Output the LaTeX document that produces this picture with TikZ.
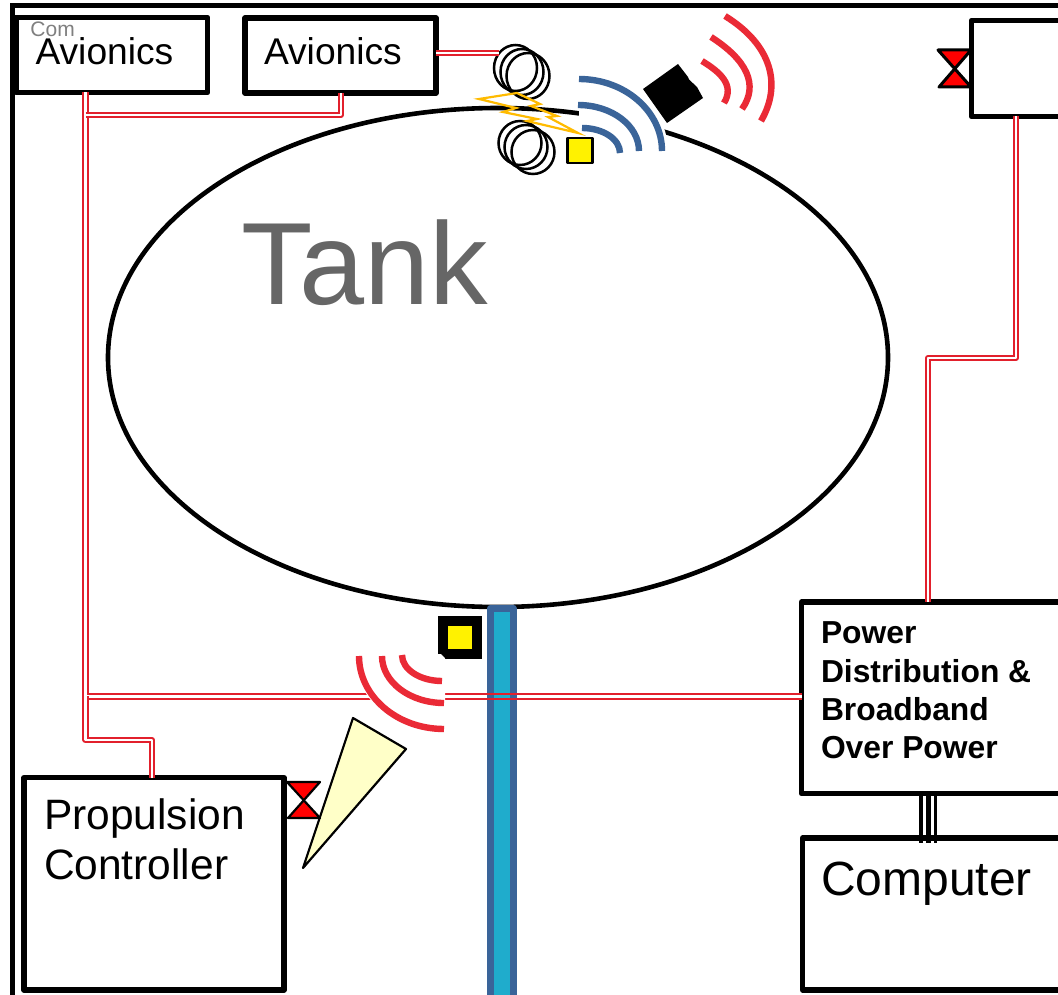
\documentclass[tikz,border=0pt]{standalone}
\usepackage{fontspec}
\setmainfont{Liberation Sans}
\usetikzlibrary{shapes.geometric,calc}
\definecolor{wirered}{HTML}{E2202C}
\definecolor{sigred}{HTML}{EA2A36}
\definecolor{sigblue}{HTML}{3A6499}
\definecolor{pipeteal}{HTML}{1FACCC}
\definecolor{bolt}{HTML}{FFBB00}
\definecolor{cone}{HTML}{FFFFC8}
\tikzset{
  box/.style={draw=black,line width=5.4pt,fill=white,rectangle,inner sep=0pt,outer sep=0pt,line join=round},
  wire/.style={draw=wirered,line width=6.2pt,line join=round,postaction={draw=white,line width=2.2pt}},
  sigr/.style={draw=sigred,line width=6.4pt},
  sigb/.style={draw=sigblue,line width=6.4pt},
  coil/.style={draw=black,line width=2.5pt},
  valve/.style={draw=black,fill=red,line join=round},
  lbl/.style={inner sep=0pt,outer sep=0pt,anchor=base west},
  mlbl/.style={inner sep=0pt,outer sep=0pt,anchor=north west,align=left}
}
\begin{document}
\begin{tikzpicture}[x=1pt,y=-1pt]
\useasboundingbox (0,0) rectangle (1058,995);
\clip (0,0) rectangle (1058,995);
\fill[white] (0,0) rectangle (1058,995);
% outer frame
\draw[black,line width=5pt] (12.5,1005) -- (12.5,6) -- (1070,6);
% tank
\node[draw=black,line width=4.6pt,ellipse,minimum width=780pt,minimum height=499pt,inner sep=0pt,outer sep=0pt] (tank) at (498,357.5) {};
\node[lbl,font=\fontsize{117}{117}\selectfont,text=black!60] (tanklabel) at (241,305) {Tank};
% boxes
\node[box,minimum width=191.5pt,minimum height=75pt] (av1) at (111.75,55) {};
\node[box,minimum width=191pt,minimum height=75pt] (av2) at (340.5,55.5) {};
\node[box,minimum width=94pt,minimum height=96pt] (rbox) at (1018.5,68.5) {};
\node[box,minimum width=260pt,minimum height=212.5pt] (prop) at (154,883.75) {};
\node[box,minimum width=263.5pt,minimum height=191.5pt] (pwr) at (933.25,697.75) {};
\node[box,minimum width=262.5pt,minimum height=152pt] (comp) at (933.75,914) {};
% texts
\node[lbl,font=\fontsize{21}{21}\selectfont,text=black!50] (comlabel) at (30.5,37) {Com};
\node[lbl,font=\fontsize{37.2}{37.2}\selectfont] (av1label) at (35.5,65) {Avionics};
\node[lbl,font=\fontsize{37.2}{37.2}\selectfont] (av2label) at (264,65) {Avionics};
\node[mlbl,font=\fontsize{42.5}{50}\selectfont] (proplabel) at (44,799) {Propulsion\\Controller};
\node[mlbl,font=\fontsize{31.8}{38.3}\selectfont\bfseries] (pwrlabel) at (821,622) {Power\\Distribution \&\\Broadband\\Over Power};
\node[lbl,font=\fontsize{48}{48}\selectfont] (complabel) at (821,895) {Computer};
% coils
\node[coil,ellipse,minimum width=43pt,minimum height=46pt,inner sep=0pt] (c1) at (515.5,68) {};
\node[coil,ellipse,minimum width=43pt,minimum height=46pt,inner sep=0pt] (c2) at (522,72) {};
\node[coil,ellipse,minimum width=43pt,minimum height=46pt,inner sep=0pt] (c3) at (528,76) {};
\node[coil,ellipse,minimum width=43pt,minimum height=44pt,inner sep=0pt] (c4) at (520,143) {};
\node[coil,ellipse,minimum width=43pt,minimum height=44pt,inner sep=0pt] (c5) at (526,147) {};
\node[coil,ellipse,minimum width=43pt,minimum height=44pt,inner sep=0pt] (c6) at (533,152) {};
% wires
\coordinate (jtop) at (85.5,115);
\coordinate (jbot) at (85.5,696.4);
\coordinate (jp) at (85.5,740);
\draw[wire] ([xshift=-26.25pt]av1.south) -- (jbot) -- (pwr.west |- jbot);
\draw[wire] (jtop) -- (341,115) -- ([xshift=0.5pt]av2.south);
\draw[wire] (jbot) -- (jp) -- (152,740) -- (prop.north -| 152,0);
\draw[wire] (av2.east |- 0,53) -- (499,53);
\draw[wire] ([xshift=-2.5pt]rbox.south) -- (1016,358) -- (928,358) -- (pwr.north -| 928,0);
% pipe
\node[draw=sigblue,fill=pipeteal,line width=7pt,rectangle,inner sep=0pt,outer sep=0pt,line join=round,minimum width=22.5pt,minimum height=400pt] (pipe) at (501.75,808) {};
\draw[draw=wirered,line width=2pt] (486,694.2) -- (517,694.2) (486,698.6) -- (517,698.6);
% power-computer link
\draw[black,line width=3.5pt] ([xshift=-12.25pt]pwr.south) -- ([xshift=-12.25pt]pwr.south |- 0,843);
\draw[black,line width=4.5pt] ([xshift=-4.75pt]pwr.south) -- ([xshift=-4.75pt]pwr.south |- 0,843);
\draw[black,line width=3.5pt] ([xshift=2.25pt]pwr.south) -- ([xshift=2.25pt]pwr.south |- 0,843);
% top signal group
\fill[white] (579,151) -- (579,74) arc (90:0:89pt and 77pt) -- cycle;
\draw[sigb] (579,79) arc (90:0:83pt and 72pt);
\draw[sigb] (578,105) arc (90:0:61pt and 46pt);
\draw[sigb] (582,128) arc (90:0:38pt and 25pt);
\fill[black] (678,64) -- (688,77) -- (689,79.5) -- (697,87) -- (703,98) -- (667,123) -- (643,89) -- cycle;
\draw[sigr] (725,16) .. controls (772,45) and (782,85) .. (761,121);
\draw[sigr] (711,37) .. controls (747,60) and (759,85) .. (742,109);
\draw[sigr] (702,61) .. controls (720,72) and (735,85) .. (724,103);
\draw[bolt,line width=2.2pt,line join=miter] (479,99) -- (517,93) -- (540,104) -- (531,106) -- (557,116) -- (548,117) -- (578,133) -- (527,121) -- (537,119) -- (503,112) -- (516,108) -- cycle;
\node[draw=black,fill=yellow,line width=2.5pt,rectangle,inner sep=0pt,minimum width=25pt,minimum height=25pt,line join=round] (sq1) at (580,150.5) {};
% bottom sensor and signal
\node[draw=black,fill=yellow,line width=10pt,rectangle,inner sep=0pt,minimum width=34pt,minimum height=33pt] (sq2) at (459.5,637.5) {};
\fill[white] (444,654) -- (354,654) arc (180:270:90pt and 79pt) -- (445,733) -- (445,654) -- cycle;
\fill[black] (441,654) -- (446,654) -- (446,659) -- cycle;
\draw[sigr] (359,656) arc (180:270:85pt and 73pt);
\draw[sigr] (382,656) arc (180:270:62pt and 47pt);
\draw[sigr] (402,655) arc (180:270:40pt and 26pt);
% horn
\draw[black,fill=cone,line width=2.2pt,line join=round] (353,718) -- (406,749) -- (303,868) -- cycle;
% valves
\draw[valve,line width=3pt] (938,50) -- (971,50) -- (939,87) -- (971,87) -- cycle;
\draw[valve,line width=2.2pt] (287,782) -- (320,782) -- (288,818) -- (320,818) -- cycle;
\end{tikzpicture}
\end{document}
